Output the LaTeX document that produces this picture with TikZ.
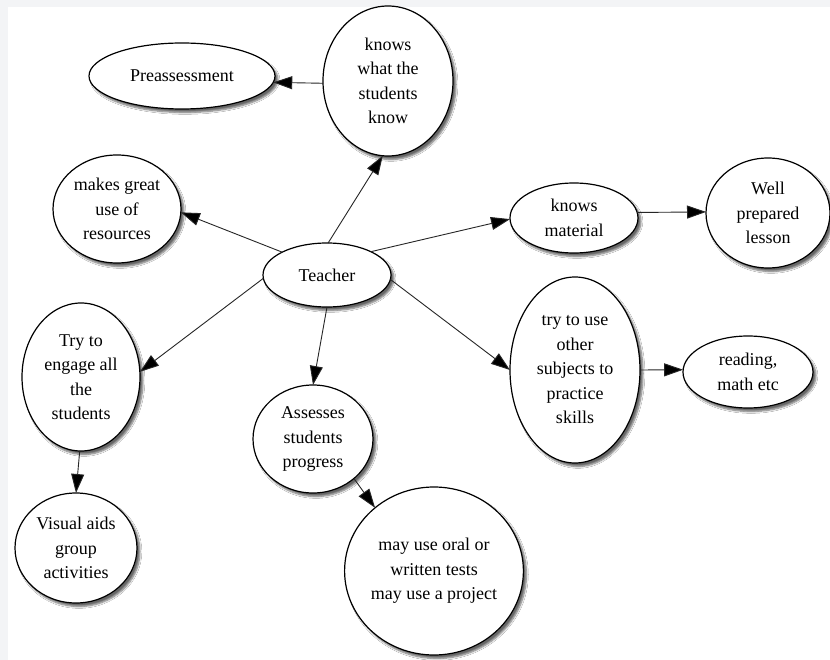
\documentclass[tikz,border=0pt]{standalone}
\usepackage{fontspec}
\setmainfont{Liberation Serif}
\usetikzlibrary{shapes.geometric,arrows.meta,shadows.blur}
\definecolor{bgstrip}{HTML}{F3F4F6}
\tikzset{
  bub/.style={ellipse, draw=black, line width=1.2pt, fill=white, align=center,
    inner sep=0pt, outer sep=0pt, font=\rmfamily\fontsize{18}{24.5}\selectfont,
    blur shadow={shadow xshift=3pt, shadow yshift=-3.5pt, shadow blur steps=6, shadow opacity=60}},
  con/.style={draw=black!85, line width=0.9pt, -{Triangle[length=19pt,width=13pt,fill=black]}}
}
\begin{document}
\begin{tikzpicture}[x=1pt,y=-1pt]
\useasboundingbox (0,0) rectangle (830,660);
\fill[bgstrip] (0,0) rectangle (830,660);
\fill[white] (8,7) rectangle (830,660);

\node[bub, minimum width=186pt, minimum height=66pt] (pre) at (182,76) {Preassessment};
\node[bub, minimum width=130pt, minimum height=150pt] (kw) at (388,81) {knows\\what the\\students\\know};
\node[bub, minimum width=128pt, minimum height=108pt] (mg) at (117,209) {makes great\\use of\\resources};
\node[bub, minimum width=128pt, minimum height=64pt] (tea) at (327,275) {Teacher};
\node[bub, minimum width=128pt, minimum height=70pt] (km) at (574,218) {knows\\material};
\node[bub, minimum width=124pt, minimum height=110pt] (wp) at (768,213) {Well\\prepared\\lesson};
\node[bub, minimum width=130pt, minimum height=186pt] (tu) at (575,370) {try to use\\other\\subjects to\\practice\\skills};
\node[bub, minimum width=130pt, minimum height=72pt] (rd) at (748,372) {reading,\\math etc};
\node[bub, minimum width=118pt, minimum height=148pt] (te) at (81,377) {Try to\\engage all\\the\\students};
\node[bub, minimum width=122pt, minimum height=110pt] (va) at (76,548) {Visual aids\\group\\activities};
\node[bub, minimum width=120pt, minimum height=108pt] (as) at (313,439) {Assesses\\students\\progress};
\node[bub, minimum width=172pt, minimum height=168pt] (mu) at (434,571) {may use oral or\\written tests\\may use a project};

\draw[con] (tea.88) -- (kw.266);
\draw[con] (kw.182) -- (pre.356);
\draw[con] (tea.153) -- (mg.357);
\draw[con] (tea.28) -- (km.181);
\draw[con] (km.5) -- (wp.179);
\draw[con] (tea.356) -- (tu.180);
\draw[con] (tu.0) -- (rd.178);
\draw[con] (tea.183) -- (te.5);
\draw[con] (te.269) -- (va.90);
\draw[con] (tea.270) -- (as.90);
\draw[con] (as.316) -- (mu.133);
\end{tikzpicture}
\end{document}
